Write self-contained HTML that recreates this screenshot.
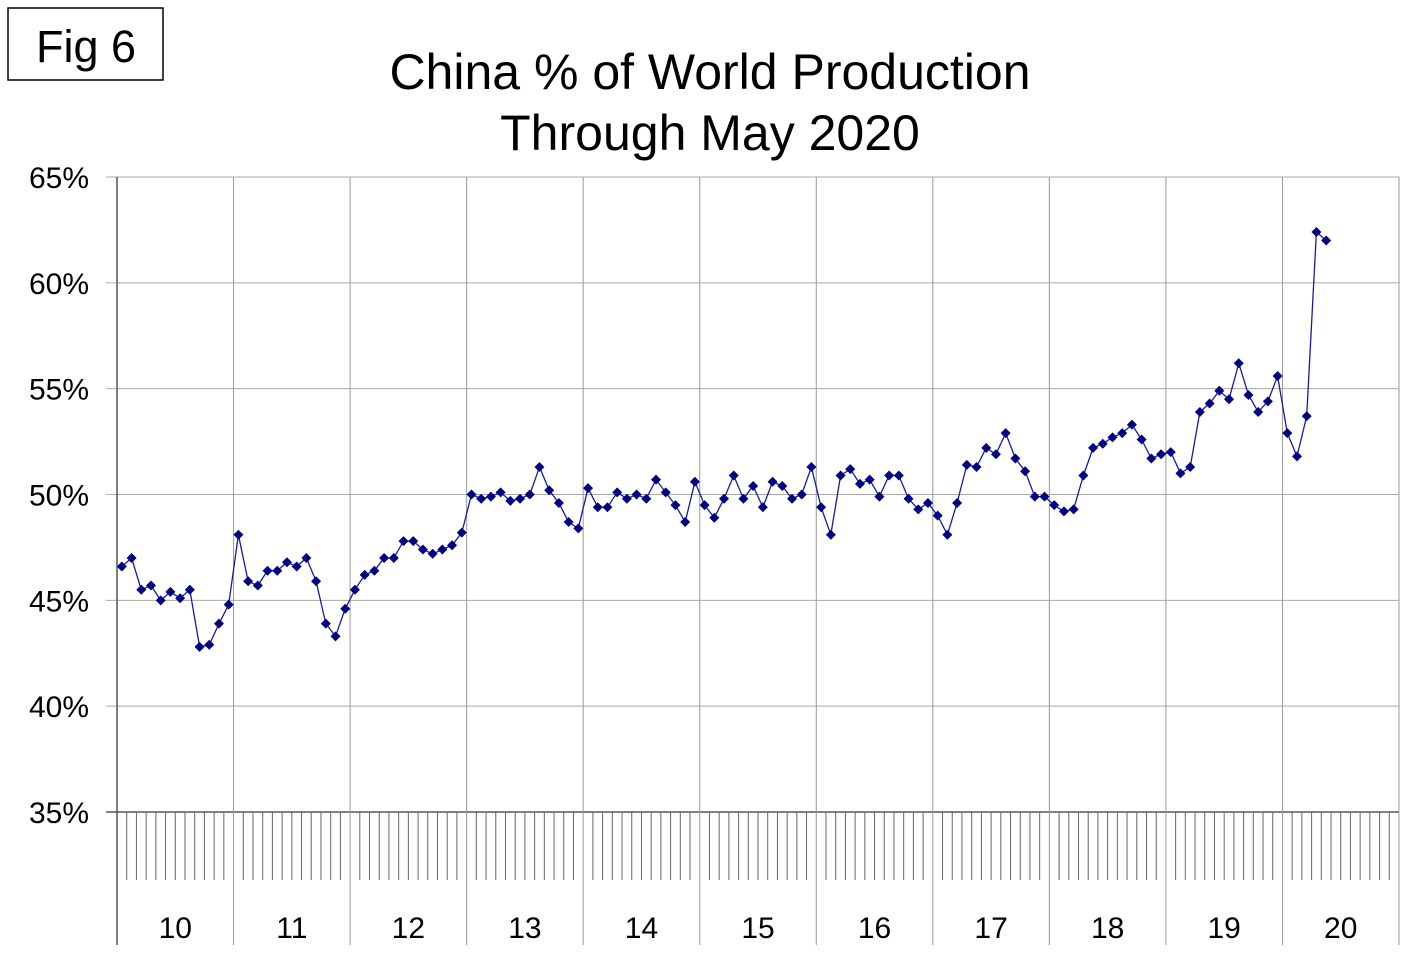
<!DOCTYPE html>
<html><head><meta charset="utf-8"><style>
body{margin:0;background:#fff;}
svg{display:block;font-family:"Liberation Sans",Arial,sans-serif;}
</style></head><body>
<svg id="chart" width="1420" height="973">
<rect x="8" y="8" width="155" height="72" fill="#fff" stroke="#000" stroke-width="1.5"/>
<text x="86" y="62" font-size="45" text-anchor="middle">Fig 6</text>
<text x="710" y="89" font-size="50" text-anchor="middle">China % of World Production</text>
<text x="710" y="150" font-size="50" text-anchor="middle">Through May 2020</text>
<g id="grid"></g><g id="axes"></g><g id="series"></g>
</svg>
<script>
const yTicks=[35,40,45,50,55,60,65];
const yearLabels=["10","11","12","13","14","15","16","17","18","19","20"];
const values=[
46.6,47.0,45.5,45.7,45.0,45.4,45.1,45.5,42.8,42.9,43.9,44.8,
48.1,45.9,45.7,46.4,46.4,46.8,46.6,47.0,45.9,43.9,43.3,44.6,
45.5,46.2,46.4,47.0,47.0,47.8,47.8,47.4,47.2,47.4,47.6,48.2,
50.0,49.8,49.9,50.1,49.7,49.8,50.0,51.3,50.2,49.6,48.7,48.4,
50.3,49.4,49.4,50.1,49.8,50.0,49.8,50.7,50.1,49.5,48.7,50.6,
49.5,48.9,49.8,50.9,49.8,50.4,49.4,50.6,50.4,49.8,50.0,51.3,
49.4,48.1,50.9,51.2,50.5,50.7,49.9,50.9,50.9,49.8,49.3,49.6,
49.0,48.1,49.6,51.4,51.3,52.2,51.9,52.9,51.7,51.1,49.9,49.9,
49.5,49.2,49.3,50.9,52.2,52.4,52.7,52.9,53.3,52.6,51.7,51.9,
52.0,51.0,51.3,53.9,54.3,54.9,54.5,56.2,54.7,53.9,54.4,55.6,
52.9,51.8,53.7,62.4,62.0];
const NS="http://www.w3.org/2000/svg";
const X0=117,X1=1399,Y0=812,Y1=177,yMin=35,yMax=65;
const yearW=(X1-X0)/11, monW=yearW/12;
const yS=v=>Y0-(v-yMin)/(yMax-yMin)*(Y0-Y1);
const xS=i=>X0+monW*(i+0.5);
function mk(tag,attrs,parent){const e=document.createElementNS(NS,tag);for(const k in attrs)e.setAttribute(k,attrs[k]);parent.appendChild(e);return e;}
const grid=document.getElementById('grid'),axes=document.getElementById('axes'),ser=document.getElementById('series');
mk('rect',{x:X0,y:Y1,width:X1-X0,height:Y0-Y1,fill:'none',stroke:'#999','stroke-width':1},grid);
yTicks.forEach(t=>{
  const l=mk('line',{x1:106,x2:X1,y1:yS(t),y2:yS(t),stroke:t===35?'#555':'#aaa','stroke-width':t===35?1.5:1},grid);
  
  
  const tx=mk('text',{x:89,y:yS(t)+11,'font-size':30,'text-anchor':'end'},axes);
  tx.textContent=t+'%';
  
  
});
for(let i=0;i<=11;i++){
  const x=X0+i*yearW;
  const l=mk('line',{x1:x,x2:x,y1:Y1,y2:945,stroke:'#999','stroke-width':1},grid);
  
  
}
for(let m=1;m<132;m++){
  if(m%12===0)continue;
  const x=X0+m*monW;
  mk('line',{x1:x,x2:x,y1:Y0,y2:880,stroke:'#666','stroke-width':1},axes);
}
mk('line',{x1:X0,x2:X0,y1:Y1,y2:945,stroke:'#555','stroke-width':1.5},axes);
yearLabels.forEach((lab,i)=>{
  const tx=mk('text',{x:X0+(i+0.5)*yearW,y:938,'font-size':30,'text-anchor':'middle'},axes);
  tx.textContent=lab;
  
  
});
const pts=values.map((v,i)=>xS(i).toFixed(1)+','+yS(v).toFixed(1)).join(' ');
const pl=mk('polyline',{points:pts,fill:'none',stroke:'#1a1aa0','stroke-width':1.3},ser);


values.forEach((v,i)=>{
  const x=xS(i),y=yS(v),r=5;
  const p=mk('polygon',{points:`${x},${y-r} ${x+r},${y} ${x},${y+r} ${x-r},${y}`,fill:'#000080'},ser);
  
  
});
</script>
</body></html>
